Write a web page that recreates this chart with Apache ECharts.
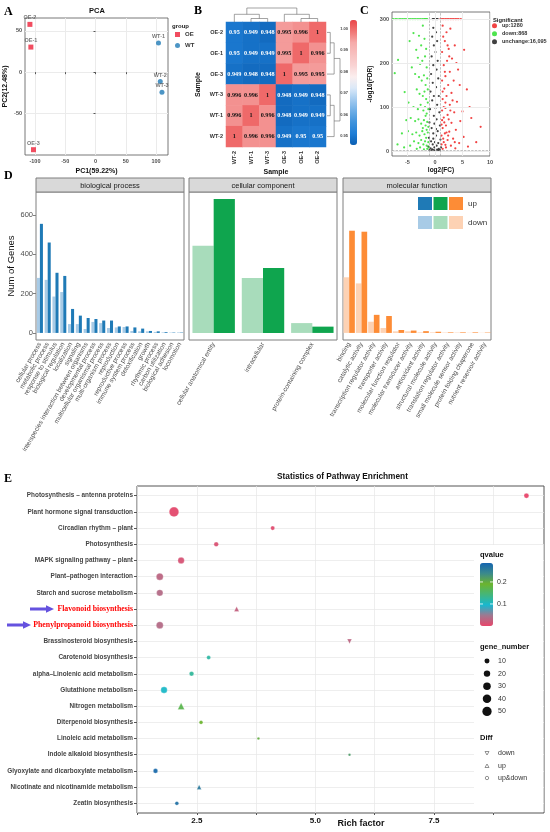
<!DOCTYPE html>
<html>
<head>
<meta charset="utf-8">
<script src="https://cdn.jsdelivr.net/npm/echarts@6/dist/echarts.min.js"></script>
<style>
html, body { margin: 0; padding: 0; background: #fff; }
#main { width: 550px; height: 832px; }
</style>
</head>
<body>
<div id="main"></div>
<script>
var SANS = '"Liberation Sans", Arial, sans-serif';
var SERIF = '"Liberation Serif", "Times New Roman", serif';

// A: PCA
var pcaNames = ['OE-1', 'OE-2', 'OE-3', 'WT-1', 'WT-2', 'WT-3'];
var pcaGroup = ['OE', 'OE', 'OE', 'WT', 'WT', 'WT'];
var pc1 = [-106.8, -108.4, -102.5, 104.1, 107, 109.8];
var pc2 = [30.3, 57.7, -93.6, 35.2, -11.3, -24.3];
var pc1Ticks = [-100, -50, 0, 50, 100];
var pc2Ticks = [-50, 0, 50];

// B: sample correlation heatmap
var hmCols = ['WT-2', 'WT-1', 'WT-3', 'OE-3', 'OE-1', 'OE-2'];
var hmRows = ['OE-2', 'OE-1', 'OE-3', 'WT-3', 'WT-1', 'WT-2'];
var corr = [
  [0.95, 0.949, 0.948, 0.995, 0.996, 1],
  [0.95, 0.949, 0.949, 0.995, 1, 0.996],
  [0.949, 0.948, 0.948, 1, 0.995, 0.995],
  [0.996, 0.996, 1, 0.948, 0.949, 0.948],
  [0.996, 1, 0.996, 0.948, 0.949, 0.949],
  [1, 0.996, 0.996, 0.949, 0.95, 0.95]
];
var corrTicks = [1.00, 0.99, 0.98, 0.97, 0.96, 0.95];
// dendrogram merges: [pos1, pos2, height1, height2, mergeHeight]
var colDendro = [[1.5, 2.5, 0, 0, 0.25], [0.5, 2.0, 0, 0.25, 0.55], [4.5, 5.5, 0, 0, 0.25], [3.5, 5.0, 0, 0.25, 0.55], [1.25, 4.25, 0.55, 0.55, 1]];
var rowDendro = [[0.5, 1.5, 0, 0, 0.25], [1.0, 2.5, 0.25, 0, 0.55], [3.5, 4.5, 0, 0, 0.25], [4.0, 5.5, 0.25, 0, 0.55], [1.75, 4.75, 0.55, 0.55, 1]];

// C: volcano (log2FC, -log10FDR), hand-read
var fcTicks = [-5, 0, 5, 10];
var fdrTicks = [0, 100, 200, 300];
var volUp = [[1.0,300],[1.3,300],[1.6,300],[1.9,300],[2.2,300],[2.5,300],[2.8,300],[3.1,300],[3.4,300],[3.7,300],[4.0,300],[4.3,300],[4.7,300],
  [1.4,285],[2.1,270],[2.8,278],[3.6,240],[5.3,230],[1.8,250],[2.5,232],[1.3,225],[3.1,210],[2.2,205],[1.6,195],[4.2,185],[2.7,180],[1.9,170],
  [1.3,160],[3.4,160],[2.4,150],[1.7,142],[5.8,140],[3.0,132],[2.1,125],[1.4,118],[4.0,112],[2.7,105],[1.9,98],[1.3,92],[3.5,88],[2.3,82],
  [1.6,76],[6.6,75],[4.6,68],[3.0,64],[2.0,58],[1.4,52],[3.8,48],[2.6,44],[1.8,40],[1.2,35],[5.2,32],[3.3,28],[2.3,25],[1.6,20],[1.2,15],
  [4.4,18],[2.9,12],[2.0,8],[1.4,5],[6.0,10],[7.5,20],[3.7,6],[8.3,55],[6.3,100],[5.0,90],[4.5,150],[3.9,200],[2.6,215],[1.5,260],[1.9,110],
  [2.4,35],[1.7,65],[1.3,70],[2.8,92],[3.2,115],[1.8,180],[2.3,240],[1.5,28],[2.1,42],[1.2,60],[1.6,100],[2.5,72],[1.4,135],[3.6,20],[1.9,14]];
var volDown = [[-7.6,300],[-7.2,300],[-6.9,300],[-6.5,300],[-6.2,300],[-5.9,300],[-5.6,300],[-5.3,300],[-5.0,300],[-4.7,300],[-4.4,300],[-4.1,300],
  [-3.8,300],[-3.5,300],[-3.2,300],[-2.9,300],[-2.6,300],[-2.3,300],[-2.0,300],[-1.8,300],[-1.6,300],[-1.4,300],
  [-6.7,207],[-7.3,177],[-5.5,134],[-4.6,250],[-3.9,268],[-3.4,230],[-2.9,262],[-2.5,240],[-2.2,285],[-1.9,255],[-1.6,232],[-3.1,212],
  [-2.7,198],[-2.3,205],[-1.8,215],[-1.5,190],[-4.2,190],[-3.6,175],[-2.9,168],[-2.4,160],[-2.0,172],[-1.7,150],[-1.4,165],[-3.3,140],
  [-2.8,130],[-2.2,125],[-1.9,135],[-1.6,118],[-1.3,140],[-4.8,110],[-3.9,100],[-3.1,95],[-2.6,105],[-2.1,92],[-1.8,100],[-1.5,85],
  [-1.2,95],[-5.2,70],[-4.4,75],[-3.6,68],[-3.0,72],[-2.5,62],[-2.0,70],[-1.7,58],[-1.4,66],[-1.2,55],[-6.0,40],[-4.9,45],[-4.1,38],
  [-3.4,42],[-2.8,35],[-2.3,45],[-1.9,38],[-1.6,30],[-1.3,42],[-3.8,22],[-3.0,18],[-2.5,25],[-2.1,15],[-1.8,22],[-1.5,12],[-1.2,20],
  [-4.5,12],[-5.6,8],[-6.8,15],[-2.7,8],[-3.3,5],[-1.4,5],[-2.0,4],[-1.1,8],[-1.3,110],[-1.7,80],[-2.2,52],[-1.5,48]];
var volNone = [[-0.4,300],[-0.2,300],[0.1,300],[0.3,300],[0.5,300],[-0.3,280],[0.2,270],[-0.5,260],[0.4,250],[-0.2,240],[0.1,225],
  [-0.6,215],[0.5,205],[-0.3,195],[0.3,185],[-0.7,175],[0.6,165],[-0.4,155],[0.2,145],[-0.8,135],[0.7,125],[-0.5,115],[0.4,105],
  [-0.9,95],[0.8,88],[-0.2,80],[0.3,72],[-1.0,65],[0.9,58],[-0.6,52],[0.5,45],[-0.3,40],[0.2,35],[-1.1,30],[1.0,26],[-0.7,22],
  [0.6,18],[-0.4,15],[0.3,12],[-1.2,10],[1.1,8],[-0.8,6],[0.7,5],[-0.5,4],[0.4,3],[-0.2,2],[0.1,1],[-1.0,2],[0.9,2],[-0.6,1],[0.6,1],
  [-0.1,8],[0.0,20],[-0.3,28],[0.2,50],[-0.1,62],[0.1,98],[-0.2,125]];

// D: GO classification
var bpCats = ['cellular process', 'metabolic process', 'response to stimulus', 'biological regulation', 'localization', 'signaling',
  'interspecies interaction between organisms', 'developmental process', 'multicellular organismal process', 'multi-organism process',
  'reproduction', 'reproductive process', 'immune system process', 'detoxification', 'growth', 'rhythmic process',
  'carbon utilization', 'biological adhesion', 'locomotion'];
var bpDown = [280, 270, 185, 208, 45, 45, 20, 56, 50, 25, 28, 30, 10, 8, 8, 5, 3, 2, 3];
var bpUp = [555, 460, 306, 290, 122, 88, 76, 71, 63, 63, 33, 33, 28, 22, 10, 8, 4, 2, 2];
var ccCats = ['cellular anatomical entity', 'intracellular', 'protein-containing complex'];
var ccDown = [444, 280, 50];
var ccUp = [681, 330, 32];
var mfCats = ['binding', 'catalytic activity', 'transcription regulator activity', 'transporter activity', 'molecular function regulator',
  'molecular transducer activity', 'antioxidant activity', 'structural molecule activity', 'translation regulator activity',
  'small molecule sensor activity', 'protein folding chaperone', 'nutrient reservoir activity'];
var mfDown = [283, 252, 57, 25, 8, 8, 3, 3, 2, 2, 1, 1];
var mfUp = [520, 515, 92, 86, 15, 12, 9, 6, 3, 3, 3, 2];
var geneTicks = [0, 200, 400, 600];

// E: KEGG enrichment
var pathways = ['Photosynthesis – antenna proteins', 'Plant hormone signal transduction', 'Circadian rhythm – plant', 'Photosynthesis',
  'MAPK signaling pathway – plant', 'Plant–pathogen interaction', 'Starch and sucrose metabolism', 'Flavonoid biosynthesis',
  'Phenylpropanoid biosynthesis', 'Brassinosteroid biosynthesis', 'Carotenoid biosynthesis', 'alpha–Linolenic acid metabolism',
  'Glutathione metabolism', 'Nitrogen metabolism', 'Diterpenoid biosynthesis', 'Linoleic acid metabolism', 'Indole alkaloid biosynthesis',
  'Glyoxylate and dicarboxylate metabolism', 'Nicotinate and nicotinamide metabolism', 'Zeatin biosynthesis'];
var richFactor = [9.45, 2.02, 4.10, 2.91, 2.17, 1.72, 1.72, 3.34, 1.72, 5.72, 2.75, 2.39, 1.81, 2.17, 2.59, 3.80, 5.72, 1.63, 2.55, 2.08];
var qValue = [0.0, 0.003, 0.006, 0.01, 0.012, 0.03, 0.035, 0.025, 0.035, 0.03, 0.12, 0.125, 0.1, 0.17, 0.19, 0.2, 0.22, 0.28, 0.26, 0.27];
var geneNum = [10, 55, 6, 8, 20, 25, 20, 4, 25, 3, 5, 8, 20, 10, 4, 1, 1, 8, 3, 4];
var diffType = ['up&down', 'up&down', 'up&down', 'up&down', 'up&down', 'up&down', 'up&down', 'up', 'up&down', 'down',
  'up&down', 'up&down', 'up&down', 'up', 'up&down', 'up&down', 'up&down', 'up&down', 'up', 'up&down'];
var highlighted = ['Flavonoid biosynthesis', 'Phenylpropanoid biosynthesis'];
var geneLegend = [10, 20, 30, 40, 50];
var qTicks = [0.2, 0.1];
var richTicks = [2.5, 5, 7.5];

var chart = echarts.init(document.getElementById('main'));

function geneSize(n) { return 1.5 + 1.1 * Math.sqrt(n); }

var g = [];
function T(x, y, s, font, fill, align, valign, rot) {
  g.push({ type: 'text', x: x, y: y, rotation: rot || 0, silent: true, z: 50,
    style: { text: s, x: 0, y: 0, font: font, fill: fill || '#000',
      textAlign: align || 'left', textVerticalAlign: valign || 'middle',
      align: align || 'left', verticalAlign: valign || 'middle' } });
}

function dendroRender(horizontal) {
  return function (params, api) {
    var a = api.value(0), b = api.value(1), ha = api.value(2), hb = api.value(3), ht = api.value(4);
    var P = function (pos, h) { return horizontal ? api.coord([pos, h]) : api.coord([h, pos]); };
    return { type: 'polyline', shape: { points: [P(a, ha), P(a, ht), P(b, ht), P(b, hb)] },
      style: { stroke: '#666', lineWidth: 0.6, fill: null } };
  };
}

// grid lines drawn as markLines from the tick arrays
function gridLines(xs, ys) {
  return xs.map(function (v) { return { xAxis: v }; }).concat(ys.map(function (v) { return { yAxis: v }; }));
}

var heatData = [];
corr.forEach(function (row, r) {
  row.forEach(function (v, c) {
    heatData.push({ value: [c, r, v], label: { color: v < 0.97 ? '#fff' : '#111' } });
  });
});

function eData(kind) {
  var out = [];
  pathways.forEach(function (p, i) {
    if (diffType[i] === kind) out.push([richFactor[i], i + 1, qValue[i], geneNum[i]]);
  });
  return out;
}

var gray = '#4d4d4d';
var facetLeft = [36, 189, 343];
var facetNames = ['biological process', 'cellular component', 'molecular function'];
var facetCats = [bpCats, ccCats, mfCats];
var facetDown = [bpDown, ccDown, mfDown];
var facetUp = [bpUp, ccUp, mfUp];
var upColors = ['#1f7ab6', '#0fa54e', '#fd8c36'];
var downColors = ['#a8cbe6', '#a8dcbb', '#fdd2b4'];
var facetGap = ['22%', '14%', '8%'];

var grids = [
  { left: 25, top: 18, width: 143, height: 137, show: true, borderColor: '#555', borderWidth: 0.8 },
  { left: 226, top: 22, width: 100, height: 125 },
  { left: 226, top: 8, width: 100, height: 14 },
  { left: 327, top: 22, width: 13, height: 125 },
  { left: 392, top: 12, width: 98, height: 144, show: true, borderColor: '#555', borderWidth: 0.8 }
];
facetLeft.forEach(function (l) {
  grids.push({ left: l, top: 192, width: 148, height: 148, show: true, borderColor: '#7f7f7f', borderWidth: 1 });
});
grids.push({ left: 137, top: 486, width: 407, height: 327, show: true, borderColor: '#555', borderWidth: 1 });
grids.forEach(function (gr) { gr.outerBoundsMode = 'none'; gr.containLabel = false; });

var smallLab = { fontSize: 5.5, fontWeight: 'bold', color: gray, margin: 3 };
var hidden = { show: false };

var xAxes = [
  { gridIndex: 0, type: 'value', min: -116.5, max: 119.8, axisLine: hidden, splitLine: hidden,
    axisTick: { customValues: pc1Ticks, length: 2, lineStyle: { color: '#555' } },
    axisLabel: Object.assign({ customValues: pc1Ticks }, smallLab),
    name: 'PC1(59.22%)', nameLocation: 'middle', nameGap: 13, nameTextStyle: { fontSize: 7, fontWeight: 'bold', color: '#111' } },
  { gridIndex: 1, type: 'category', data: hmCols, axisLine: hidden,
    axisTick: { length: 2, alignWithLabel: true, lineStyle: { color: '#555' } },
    axisLabel: { rotate: 90, fontSize: 5.5, fontWeight: 'bold', color: '#333', margin: 4 },
    name: 'Sample', nameLocation: 'middle', nameGap: 22, nameTextStyle: { fontSize: 7, fontWeight: 'bold', color: '#111' } },
  { gridIndex: 2, type: 'value', min: 0, max: 6, show: false },
  { gridIndex: 3, type: 'value', min: 0, max: 1, show: false },
  { gridIndex: 4, type: 'value', min: -7.8, max: 10, axisLine: hidden, splitLine: hidden,
    axisTick: { customValues: fcTicks, length: 2, lineStyle: { color: '#555' } },
    axisLabel: Object.assign({ customValues: fcTicks }, smallLab),
    name: 'log2(FC)', nameLocation: 'middle', nameGap: 11, nameTextStyle: { fontSize: 6.5, fontWeight: 'bold', color: '#111' } }
];
var yAxes = [
  { gridIndex: 0, type: 'value', min: -100, max: 65.4, axisLine: hidden, splitLine: hidden,
    axisTick: { customValues: pc2Ticks, length: 2, lineStyle: { color: '#555' } },
    axisLabel: Object.assign({ customValues: pc2Ticks }, smallLab),
    name: 'PC2(12.48%)', nameLocation: 'middle', nameGap: 16, nameTextStyle: { fontSize: 7, fontWeight: 'bold', color: '#111' } },
  { gridIndex: 1, type: 'category', data: hmRows, inverse: true, axisLine: hidden,
    axisTick: { length: 2, alignWithLabel: true, lineStyle: { color: '#555' } },
    axisLabel: { fontSize: 5.5, fontWeight: 'bold', color: '#333', margin: 3 },
    name: 'Sample', nameLocation: 'middle', nameGap: 24, nameTextStyle: { fontSize: 7, fontWeight: 'bold', color: '#111' } },
  { gridIndex: 2, type: 'value', min: 0, max: 1, show: false },
  { gridIndex: 3, type: 'value', min: 0, max: 6, inverse: true, show: false },
  { gridIndex: 4, type: 'value', min: -11.4, max: 316, axisLine: hidden, splitLine: hidden,
    axisTick: { customValues: fdrTicks, length: 2, lineStyle: { color: '#555' } },
    axisLabel: Object.assign({ customValues: fdrTicks }, smallLab),
    name: '-log10(FDR)', nameLocation: 'middle', nameGap: 18, nameTextStyle: { fontSize: 6.5, fontWeight: 'bold', color: '#111' } }
];
facetCats.forEach(function (cats, k) {
  xAxes.push({ gridIndex: 5 + k, type: 'category', data: cats, axisLine: hidden,
    axisTick: { length: 3, alignWithLabel: true, lineStyle: { color: '#7f7f7f' } },
    axisLabel: { interval: 0, rotate: 60, fontSize: 6.5, color: gray, margin: 3 } });
  yAxes.push({ gridIndex: 5 + k, type: 'value', min: -36, max: 717, axisLine: hidden, splitLine: hidden,
    axisTick: { show: k === 0, customValues: geneTicks, length: 3, lineStyle: { color: '#7f7f7f' } },
    axisLabel: { show: k === 0, customValues: geneTicks, fontSize: 7.5, color: gray, margin: 3 },
    name: k === 0 ? 'Num of Genes' : '', nameLocation: 'middle', nameGap: 20, nameTextStyle: { fontSize: 9.5, color: '#111' } });
});
xAxes.push({ gridIndex: 8, type: 'value', min: 1.24, max: 9.82, axisLine: hidden,
  axisTick: { customValues: [1.25, 2.5, 3.75, 5, 6.25, 7.5, 8.75], length: 2, lineStyle: { color: '#555' } },
  axisLabel: { customValues: richTicks, formatter: function (v) { return v.toFixed(1); }, fontSize: 8, fontWeight: 'bold', color: '#111', margin: 4 },
  splitLine: { show: true, lineStyle: { color: '#e6e6e6', width: 0.7 } } });
yAxes.push({ gridIndex: 8, type: 'value', min: 0.4, max: 20.6, inverse: true, axisLine: hidden,
  axisTick: { customValues: pathways.map(function (p, i) { return i + 1; }), length: 3, lineStyle: { color: '#555' } },
  axisLabel: { customValues: pathways.map(function (p, i) { return i + 1; }), fontSize: 6.4, fontWeight: 'bold', color: '#444', margin: 4,
    formatter: function (v) { var n = pathways[v - 1]; return highlighted.indexOf(n) >= 0 ? '{hl|' + n + '}' : n; },
    rich: { hl: { color: '#ff0000', fontFamily: SERIF, fontWeight: 'bold', fontSize: 7.8 } } },
  splitLine: { show: true, lineStyle: { color: '#e6e6e6', width: 0.7 } } });

var gridLineStyle = { type: 'solid', color: '#ebebeb', width: 1 };
var series = [];
['OE', 'WT'].forEach(function (grp, k) {
  var d = [];
  pcaNames.forEach(function (n, i) { if (pcaGroup[i] === grp) d.push([pc1[i], pc2[i], n]); });
  var ser = { name: grp, type: 'scatter', xAxisIndex: 0, yAxisIndex: 0, data: d,
    symbol: grp === 'OE' ? 'rect' : 'circle', symbolSize: 5,
    itemStyle: { color: grp === 'OE' ? '#ee2038' : '#1f7bb6' },
    label: { show: true, position: 'top', distance: 1, formatter: function (p) { return p.value[2]; },
      fontSize: 5.5, fontWeight: 'bold', color: '#555' } };
  if (k === 0) {
    ser.markLine = { silent: true, symbol: 'none', label: { show: false }, z: 0, lineStyle: gridLineStyle,
      emphasis: { disabled: true }, data: gridLines(pc1Ticks, pc2Ticks) };
  }
  series.push(ser);
});
var HEAT = series.length;
series.push({ type: 'heatmap', xAxisIndex: 1, yAxisIndex: 1, data: heatData,
  label: { show: true, formatter: function (p) { return String(p.value[2]); }, fontFamily: SERIF, fontWeight: 'bold', fontSize: 6.2 },
  emphasis: { disabled: true } });
series.push({ type: 'custom', xAxisIndex: 2, yAxisIndex: 2, data: colDendro, renderItem: dendroRender(true), silent: true });
series.push({ type: 'custom', xAxisIndex: 3, yAxisIndex: 3, data: rowDendro, renderItem: dendroRender(false), silent: true });
// background grid for the volcano
series.push({ type: 'scatter', xAxisIndex: 4, yAxisIndex: 4, data: [], z: 0,
  markLine: { silent: true, symbol: 'none', label: { show: false }, lineStyle: gridLineStyle,
    emphasis: { disabled: true }, data: gridLines(fcTicks, fdrTicks) } });
[['unchange:16,095', volNone, '#111'], ['down:868', volDown, '#22dd22'], ['up:1280', volUp, '#ee1414']].forEach(function (s, k) {
  var ser = { name: s[0], type: 'scatter', xAxisIndex: 4, yAxisIndex: 4, data: s[1], symbolSize: 2.2,
    itemStyle: { color: s[2] } };
  if (k === 0) {
    ser.markLine = { silent: true, symbol: 'none', label: { show: false },
      lineStyle: { type: 'dashed', color: '#999', width: 0.6 },
      data: [{ xAxis: -1 }, { xAxis: 1 }, { yAxis: 1.3 }] };
  }
  series.push(ser);
});
facetCats.forEach(function (cats, k) {
  series.push({ name: 'down', type: 'bar', xAxisIndex: 5 + k, yAxisIndex: 5 + k, data: facetDown[k],
    barGap: '0%', barCategoryGap: facetGap[k], itemStyle: { color: downColors[k] } });
  series.push({ name: 'up', type: 'bar', xAxisIndex: 5 + k, yAxisIndex: 5 + k, data: facetUp[k],
    barGap: '0%', barCategoryGap: facetGap[k], itemStyle: { color: upColors[k] } });
});
var E0 = series.length;
[['up&down', 'circle', 0, 1], ['up', 'triangle', 0, 1.35], ['down', 'triangle', 180, 1.35]].forEach(function (s) {
  series.push({ name: s[0], type: 'scatter', xAxisIndex: 8, yAxisIndex: 8, data: eData(s[0]),
    symbol: s[1], symbolRotate: s[2], symbolSize: function (v) { return geneSize(v[3]) * s[3]; },
    itemStyle: { opacity: 0.95, borderColor: 'rgba(255,255,255,0.45)', borderWidth: 0.6 } });
});

// panel letters & titles
T(4, 12, 'A', 'bold 12px ' + SERIF, '#000');
T(194, 11, 'B', 'bold 12px ' + SERIF, '#000');
T(360, 11, 'C', 'bold 12px ' + SERIF, '#000');
T(4, 176, 'D', 'bold 12px ' + SERIF, '#000');
T(4, 479, 'E', 'bold 12px ' + SERIF, '#000');
T(97, 11, 'PCA', 'bold 7.5px ' + SANS, '#111', 'center');
T(172, 26, 'group', 'bold 6px ' + SANS, '#222');
T(493, 20.5, 'Significant', 'bold 5.8px ' + SANS, '#222');
T(277, 477, 'Statistics of Pathway Enrichment', 'bold 8.3px ' + SANS, '#111');
T(361, 824, 'Rich factor', 'bold 9px ' + SANS, '#111', 'center');

// heatmap colour bar ticks
corrTicks.forEach(function (v) {
  T(348, 20 + (1.004 - v) / 0.058 * 125, v.toFixed(2), 'bold 4px ' + SANS, '#444', 'right');
});

// facet strips
facetLeft.forEach(function (l, k) {
  g.push({ type: 'rect', shape: { x: l, y: 178, width: 148, height: 14 }, silent: true, z: 5,
    style: { fill: '#d9d9d9', stroke: '#7f7f7f', lineWidth: 1 } });
  T(l + 74, 185.5, facetNames[k], '7.5px ' + SANS, '#1a1a1a', 'center');
});
// D legend
var sqX = [418, 433.5, 449];
upColors.forEach(function (c, k) {
  g.push({ type: 'rect', shape: { x: sqX[k], y: 197, width: 14, height: 13 }, silent: true, z: 5, style: { fill: c } });
  g.push({ type: 'rect', shape: { x: sqX[k], y: 216, width: 14, height: 13 }, silent: true, z: 5, style: { fill: downColors[k] } });
});
T(468, 203.5, 'up', '8px ' + SANS, '#333');
T(468, 222.5, 'down', '8px ' + SANS, '#333');

// E legend backdrop and keys
g.push({ type: 'rect', shape: { x: 474, y: 545, width: 69.5, height: 267 }, silent: true, z: 1, style: { fill: '#fff' } });
T(480, 555, 'qvalue', 'bold 7.5px ' + SANS, '#111');
qTicks.forEach(function (v) {
  var y = 563 + (0.286 - v) / 0.286 * 63;
  T(497, y, String(v), '7px ' + SANS, '#333');
  g.push({ type: 'line', shape: { x1: 480, y1: y, x2: 483, y2: y }, silent: true, z: 60, style: { stroke: '#fff', lineWidth: 0.8 } });
  g.push({ type: 'line', shape: { x1: 490, y1: y, x2: 493, y2: y }, silent: true, z: 60, style: { stroke: '#fff', lineWidth: 0.8 } });
});
T(480, 647, 'gene_number', 'bold 7.5px ' + SANS, '#111');
geneLegend.forEach(function (n, k) {
  var y = 661 + k * 12.6;
  g.push({ type: 'circle', shape: { cx: 487, cy: y, r: geneSize(n) / 2 }, silent: true, z: 50, style: { fill: '#111' } });
  T(498, y, String(n), '7px ' + SANS, '#333');
});
T(480, 738, 'Diff', 'bold 7.5px ' + SANS, '#111');
g.push({ type: 'polygon', shape: { points: [[485, 751.5], [489, 751.5], [487, 755]] }, silent: true, z: 50, style: { fill: 'none', stroke: '#666', lineWidth: 0.7 } });
g.push({ type: 'polygon', shape: { points: [[485, 767.5], [489, 767.5], [487, 764]] }, silent: true, z: 50, style: { fill: 'none', stroke: '#666', lineWidth: 0.7 } });
g.push({ type: 'circle', shape: { cx: 487, cy: 778, r: 1.7 }, silent: true, z: 50, style: { fill: 'none', stroke: '#666', lineWidth: 0.7 } });
T(498, 753, 'down', '7px ' + SANS, '#333');
T(498, 766, 'up', '7px ' + SANS, '#333');
T(498, 778, 'up&down', '7px ' + SANS, '#333');

// arrows pointing to highlighted pathways
[[30, 54, 609], [7, 31, 625]].forEach(function (a) {
  var x0 = a[0], x1 = a[1], y = a[2], hx = x1 - 8;
  g.push({ type: 'polygon', silent: true, z: 50, style: { fill: '#6552df' },
    shape: { points: [[x0, y - 1.6], [hx, y - 1.6], [hx, y - 3.8], [x1, y], [hx, y + 3.8], [hx, y + 1.6], [x0, y + 1.6]] } });
});

var heatColors = ['#0b5fb3', '#1f7ed6', '#3f93dc', '#6eaee6', '#a3cbef', '#dbe9f8', '#fbeeee', '#f9d3d3', '#f7c0bf', '#f6abaa', '#f07574', '#ea4548'];
var qColors = ['#e8456a', '#a07890', '#17b8cf', '#44b67a', '#6cb42e', '#3b8a8c', '#1565b0'];

chart.setOption({
  animation: false,
  backgroundColor: '#fff',
  textStyle: { fontFamily: SANS },
  grid: grids,
  xAxis: xAxes,
  yAxis: yAxes,
  visualMap: [
    { type: 'continuous', seriesIndex: HEAT, dimension: 2, min: 0.946, max: 1.004, inRange: { color: heatColors },
      left: 350, top: 20, itemWidth: 7, itemHeight: 125, padding: 0, calculable: false, hoverLink: false, showLabel: false },
    { type: 'continuous', seriesIndex: [E0, E0 + 1, E0 + 2], dimension: 2, min: 0, max: 0.286, inRange: { color: qColors },
      left: 480, top: 563, itemWidth: 13, itemHeight: 63, padding: 0, calculable: false, hoverLink: false, showLabel: false }
  ],
  legend: [
    { data: ['OE', 'WT'], orient: 'vertical', left: 175, top: 31, padding: 0, itemWidth: 5, itemHeight: 5, itemGap: 4,
      textStyle: { fontSize: 6, fontWeight: 'bold', color: '#333', lineHeight: 7 }, selectedMode: false },
    { data: ['up:1280', 'down:868', 'unchange:16,095'], orient: 'vertical', left: 492, top: 22.2, padding: 0, icon: 'circle',
      itemWidth: 5, itemHeight: 5, itemGap: 1, textStyle: { fontSize: 5.5, fontWeight: 'bold', color: '#333', lineHeight: 7 }, selectedMode: false }
  ],
  series: series,
  graphic: { elements: g }
});
</script>
</body>
</html>
